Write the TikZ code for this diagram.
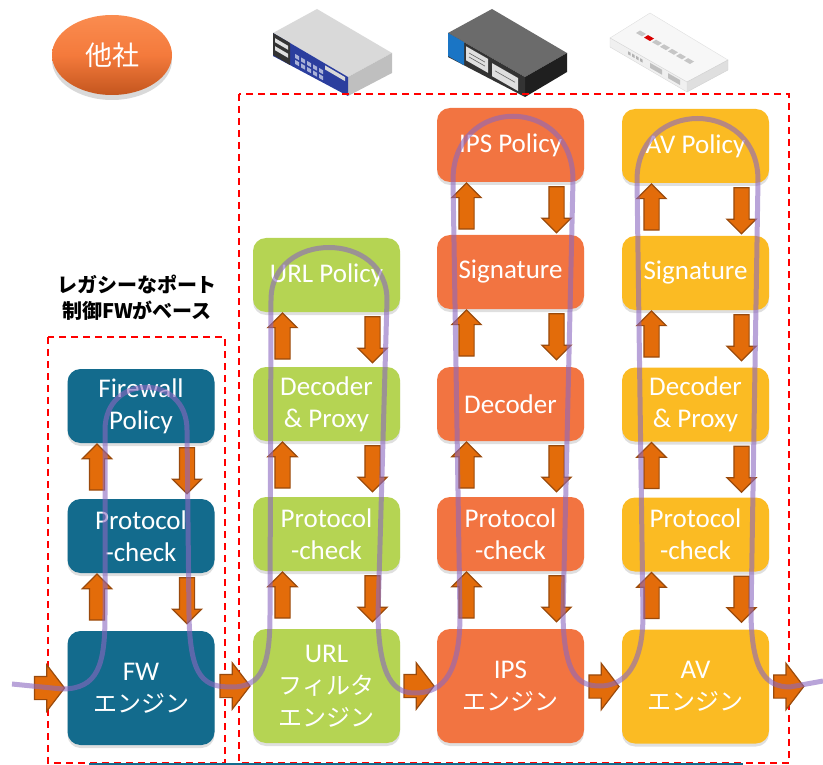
\documentclass[tikz,border=0pt]{standalone}
\usepackage{fontspec}
\setmainfont{Carlito}
\newfontfamily\jp{Noto Sans CJK JP}
\usetikzlibrary{shapes.geometric,shapes.arrows,shadows}

\definecolor{fwteal}{HTML}{136B8D}
\definecolor{urlgreen}{HTML}{B5D453}
\definecolor{ipsorange}{HTML}{F27441}
\definecolor{avyellow}{HTML}{FBBB23}
\definecolor{arrfill}{HTML}{E36C0A}
\definecolor{arrline}{HTML}{9A4A0C}
\definecolor{flowpurple}{HTML}{8B67BF}
\definecolor{devblue}{HTML}{2B3E9E}
\definecolor{ipsblue}{HTML}{1A75C5}
\definecolor{tashatop}{HTML}{FA8C50}
\definecolor{tashamid}{HTML}{F47A3C}
\definecolor{tashabot}{HTML}{C4561E}

\newcommand{\jtext}[1]{{\jp\fontsize{24}{32}\selectfont #1}}

\tikzset{
  stage/.style={rounded corners=13pt, minimum width=147pt, minimum height=74pt,
    inner sep=0pt, align=center, text=white, font=\fontsize{27}{32}\selectfont,
    drop shadow={opacity=.25, shadow xshift=0pt, shadow yshift=-3pt}},
  engine/.style={stage, minimum height=114pt},
  uparr/.style={single arrow, shape border rotate=90, fill=arrfill, draw=arrline,
    line width=1.2pt, inner xsep=7pt, inner ysep=0pt,
    single arrow head extend=7pt, minimum height=46pt},
  dnarr/.style={uparr, shape border rotate=270},
  rarr/.style={single arrow, fill=arrfill, draw=arrline, line width=1.2pt,
    inner xsep=0pt, inner ysep=11pt, single arrow head extend=11.5pt,
    single arrow tip angle=105, minimum height=30pt},
  zone/.style={red, line width=1.5pt, dash pattern=on 7pt off 5pt},
  flowline/.style={flowpurple, line width=5pt, opacity=.6}
}

\begin{document}
\begin{tikzpicture}[x=1pt,y=-1pt]
\useasboundingbox (0,0) rectangle (823,765);

% URL filter appliance
\fill[gray!30] (273,33) -- (317,9) -- (392,53) -- (348,77) -- cycle;
\fill[gray!50] (348,77) -- (392,53) -- (392,73) -- (348,96) -- cycle;
\fill[devblue] (273,33) -- (348,77) -- (348,96) -- (273,56) -- cycle;
\begin{scope}[shift={(273,33)}, yslant=-0.585]
  \fill[black!80] (0,0) rectangle (17,22);
  \fill[gray!25] (2,4) rectangle (15,8);
  \fill[gray!25] (2,12) rectangle (15,16);
  \foreach \i in {0,...,4} {
    \fill[white!60!devblue] (22+\i*6,8) rectangle +(4,4);
    \fill[white!60!devblue] (22+\i*6,14) rectangle +(4,4);
  }
  \fill[gray!30] (52,2) rectangle (72,6);
\end{scope}

% IPS appliance
\fill[black!58] (448,33) -- (492,9) -- (567,53) -- (525,77) -- cycle;
\fill[black!88] (525,77) -- (567,53) -- (567,72) -- (525,97) -- cycle;
\fill[black!80] (448,33) -- (525,77) -- (525,97) -- (448,57) -- cycle;
\begin{scope}[shift={(448,33)}, yslant=-0.571]
  \fill[ipsblue] (0,0) rectangle (16,23);
  \fill[gray!25] (18,3) rectangle (40,17);
  \fill[gray!25] (44,5) rectangle (70,18);
  \draw[black!60, line width=.6pt] (21,8) -- (37,8) (21,12) -- (37,12) (47,11) -- (67,11);
\end{scope}

% AV appliance
\filldraw[fill=gray!6, draw=gray!25, line width=.4pt] (610,38) -- (650,13) -- (728,60) -- (687,82) -- cycle;
\filldraw[fill=gray!25, draw=gray!35, line width=.4pt] (687,82) -- (728,60) -- (728,70) -- (687,92) -- cycle;
\filldraw[fill=gray!12, draw=gray!30, line width=.4pt] (610,38) -- (687,82) -- (687,92) -- (610,47) -- cycle;
\foreach \i/\c in {0/gray!45,1/red!85!black,2/gray!45,3/gray!45,4/gray!45,5/gray!45,6/gray!45}
  \fill[\c, shift={(\i*8,\i*4.6)}] (636,33) -- ++(6,3.4) -- ++(4,-2.5) -- ++(-6,-3.4) -- cycle;
\begin{scope}[shift={(610,38)}, yslant=-0.571]
  \foreach \i in {0,...,3}
    \fill[gray!60] (18+\i*4,3) rectangle +(2.5,3);
  \fill[gray!50] (40,2) rectangle (52,7);
  \fill[gray!50] (58,2) rectangle (70,7);
\end{scope}

% other vendor badge
\node[ellipse, minimum width=120pt, minimum height=80pt, top color=tashatop,
  bottom color=tashabot, middle color=tashamid,
  drop shadow={opacity=.3, shadow xshift=0pt, shadow yshift=-5pt},
  text=white, font=\jp\fontsize{27}{30}\selectfont] (tasha) at (112,55) {他社};

\node[font=\jp\bfseries\fontsize{20}{26}\selectfont, align=center] (legacy) at (137,298)
  {レガシーなポート\\制御FWがベース};

% dashed zones
\draw[zone] (48,337) rectangle (225,763);
\draw[zone] (239,94) rectangle (789,763);
\draw[fwteal, line width=2.5pt] (89,764.5) -- (743,764.5);

% FW
\node[stage, fill=fwteal] (fwpol) at (141,406) {Firewall\\Policy};
\node[stage, fill=fwteal] (fwchk) at (141,536) {Protocol\\-check};
\node[engine, fill=fwteal] (fweng) at (141,688) {FW\\\jtext{エンジン}};

% URL filter
\node[stage, fill=urlgreen] (urlpol) at (326.5,275) {URL Policy};
\node[stage, fill=urlgreen] (urldec) at (326.5,404) {Decoder\\\& Proxy};
\node[stage, fill=urlgreen] (urlchk) at (326.5,534) {Protocol\\-check};
\node[engine, fill=urlgreen] (urleng) at (326.5,686) {URL\\\jtext{フィルタ}\\\jtext{エンジン}};

% IPS
\node[stage, fill=ipsorange] (ipspol) at (510.5,145) {IPS Policy};
\node[stage, fill=ipsorange] (ipssig) at (510.5,272) {Signature};
\node[stage, fill=ipsorange] (ipsdec) at (510.5,404) {Decoder};
\node[stage, fill=ipsorange] (ipschk) at (510.5,534) {Protocol\\-check};
\node[engine, fill=ipsorange] (ipseng) at (510.5,686) {IPS\\\jtext{エンジン}};

% AV
\node[stage, fill=avyellow] (avpol) at (695.5,146) {AV Policy};
\node[stage, fill=avyellow] (avsig) at (695.5,273) {Signature};
\node[stage, fill=avyellow] (avdec) at (695.5,404.5) {Decoder\\\& Proxy};
\node[stage, fill=avyellow] (avchk) at (695.5,534.5) {Protocol\\-check};
\node[engine, fill=avyellow] (aveng) at (695.5,686.5) {AV\\\jtext{エンジン}};

% up / down between stacked stages
\foreach \a in {fwpol,fwchk,urlpol,urldec,urlchk,ipspol,ipssig,ipsdec,ipschk,avpol,avsig,avdec,avchk} {
  \node[uparr, anchor=tip] (\a-up) at ([xshift=-44pt]\a.south) {};
  \node[dnarr, anchor=tail] (\a-dn) at ([xshift=46pt, yshift=-4pt]\a.south) {};
}

% hand-over between engines
\foreach \e in {fweng,urleng,ipseng,aveng}
  \node[rarr, anchor=tip] (\e-in) at ([xshift=-2pt]\e.west) {};
\node[rarr, anchor=tail] (aveng-out) at ([xshift=4pt]aveng.east) {};

% packet path
\draw[flowline] (12,684) -- (62,689) .. controls (98,689) and (105,665) .. (105,615)
  -- (105,430) .. controls (105,373) and (187,373) .. (187,430)
  -- (189,615) .. controls (190,680) and (205,687) .. (232,687)
  .. controls (262,687) and (270,665) .. (270,615)
  -- (271,300) .. controls (271,230) and (387,230) .. (387,300)
  -- (378,615) .. controls (379,680) and (395,693) .. (415,693)
  .. controls (445,693) and (460,670) .. (460,615)
  -- (453,180) .. controls (453,95) and (573,95) .. (573,180)
  -- (563,615) .. controls (564,675) and (578,686) .. (600,686)
  .. controls (625,686) and (643,665) .. (643,615)
  -- (637,180) .. controls (637,98) and (758,98) .. (758,180)
  -- (751,615) .. controls (752,670) and (765,687) .. (790,687) -- (823,681);
\end{tikzpicture}
\end{document}
